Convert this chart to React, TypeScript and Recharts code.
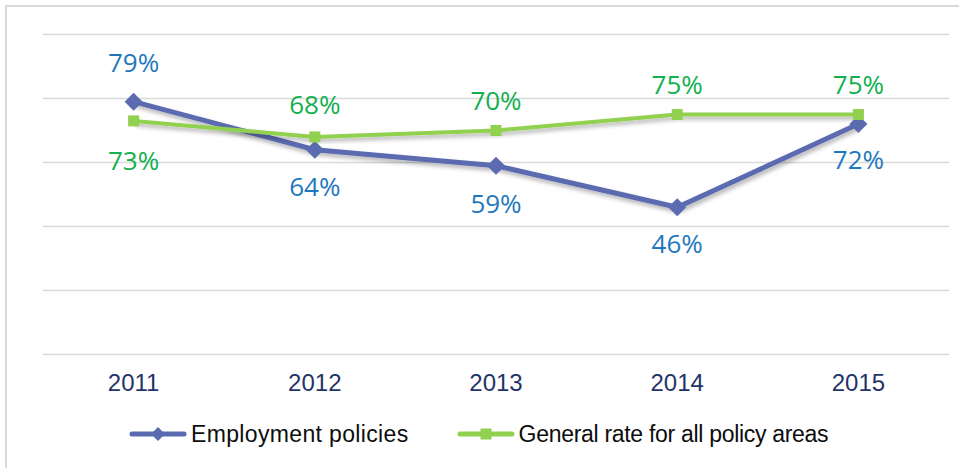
import React from "react";
import { LineChart, Line, XAxis, YAxis, CartesianGrid, LabelList } from "recharts";

const years = ["2011", "2012", "2013", "2014", "2015"];
const employment = [79, 64, 59, 46, 72];
const general = [73, 68, 70, 75, 75];

const data = years.map((year, i) => ({ year, employment: employment[i], general: general[i] }));

const BLUE_LINE = "#5B6BB0";
const GREEN_LINE = "#92D050";
const BLUE_TEXT = "#1F78BE";
const GREEN_TEXT = "#12B04F";
const TICK = "#1F3468";

// label above for some points, below for others
const blueOffsets = [-40, 36, 37, 36, 35];
const greenOffsets = [39, -33, -31, -31, -31];

const makeLabel = (offsets: number[], color: string) => (props: any) => {
  const { x, y, value, index } = props;
  return (
    <text
      x={x}
      y={y + offsets[index]}
      fill={color}
      fontSize={26}
      fontFamily="'Open Sans', sans-serif"
      textAnchor="middle"
      dominantBaseline="central"
    >
      {value}%
    </text>
  );
};

const Diamond = (props: any) => {
  const { cx, cy } = props;
  if (cx == null || cy == null) return null;
  const r = 9;
  return (
    <polygon
      points={`${cx},${cy - r} ${cx + r},${cy} ${cx},${cy + r} ${cx - r},${cy}`}
      fill={BLUE_LINE}
    />
  );
};

const Square = (props: any) => {
  const { cx, cy } = props;
  if (cx == null || cy == null) return null;
  return <rect x={cx - 5.5} y={cy - 5.5} width={11} height={11} fill={GREEN_LINE} />;
};

const LegendItem = ({ color, shape, label, spacing }: { color: string; shape: "diamond" | "square"; label: string; spacing: number }) => (
  <div style={{ display: "flex", alignItems: "center" }}>
    <svg width={58} height={20} style={{ marginRight: 4 }}>
      <line x1={3} y1={10} x2={55} y2={10} stroke={color} strokeWidth={5} strokeLinecap="round" />
      {shape === "diamond" ? (
        <polygon points="29,3 36,10 29,17 22,10" fill={color} />
      ) : (
        <rect x={23.5} y={4.5} width={11} height={11} fill={color} />
      )}
    </svg>
    <span style={{ letterSpacing: spacing }}>{label}</span>
  </div>
);

export default function App() {
  return (
    <div style={{ position: "absolute", left: 0, top: 0, width: 959, height: 468, overflow: "hidden", background: "#fff" }}>
      <div
        style={{
          position: "absolute",
          left: 5,
          top: 5,
          width: 970,
          height: 480,
          border: "2px solid #D9D9D9",
        }}
      />
      <LineChart
        width={959}
        height={468}
        data={data}
        margin={{ top: 34.5, right: 10, left: 43, bottom: 83.5 }}
        style={{ position: "absolute", left: 0, top: 0 }}
      >
        <defs>
          <filter id="lineShadow" x="-5%" y="-20%" width="110%" height="150%">
            <feDropShadow dx="1.5" dy="3" stdDeviation="2" floodColor="#000" floodOpacity="0.3" />
          </filter>
        </defs>
        <CartesianGrid vertical={false} stroke="#D9D9D9" strokeWidth={1.5} />
        <XAxis
          dataKey="year"
          axisLine={false}
          tickLine={false}
          height={30}
          padding={{ left: 90.6, right: 90.6 }}
          tick={{ fill: TICK, fontSize: 24, fontFamily: "Arial, 'Liberation Sans', sans-serif", dy: 11 }}
        />
        <YAxis hide domain={[0, 100]} ticks={[0, 20, 40, 60, 80, 100]} />
        <Line
          dataKey="employment"
          stroke={BLUE_LINE}
          strokeWidth={5}
          dot={<Diamond />}
          activeDot={false}
          isAnimationActive={false}
          filter="url(#lineShadow)"
        >
          <LabelList dataKey="employment" content={makeLabel(blueOffsets, BLUE_TEXT)} />
        </Line>
        <Line
          dataKey="general"
          stroke={GREEN_LINE}
          strokeWidth={4}
          dot={<Square />}
          activeDot={false}
          isAnimationActive={false}
          filter="url(#lineShadow)"
        >
          <LabelList dataKey="general" content={makeLabel(greenOffsets, GREEN_TEXT)} />
        </Line>
      </LineChart>
      <div
        style={{
          position: "absolute",
          left: 129,
          top: 420,
          display: "flex",
          gap: 48,
          fontFamily: "Arial, 'Liberation Sans', sans-serif",
          fontSize: 23,
          color: "#0D0D0D",
          lineHeight: "28px",
        }}
      >
        <LegendItem color={BLUE_LINE} shape="diamond" label="Employment policies" spacing={0.35} />
        <LegendItem color={GREEN_LINE} shape="square" label="General rate for all policy areas" spacing={-0.3} />
      </div>
    </div>
  );
}
